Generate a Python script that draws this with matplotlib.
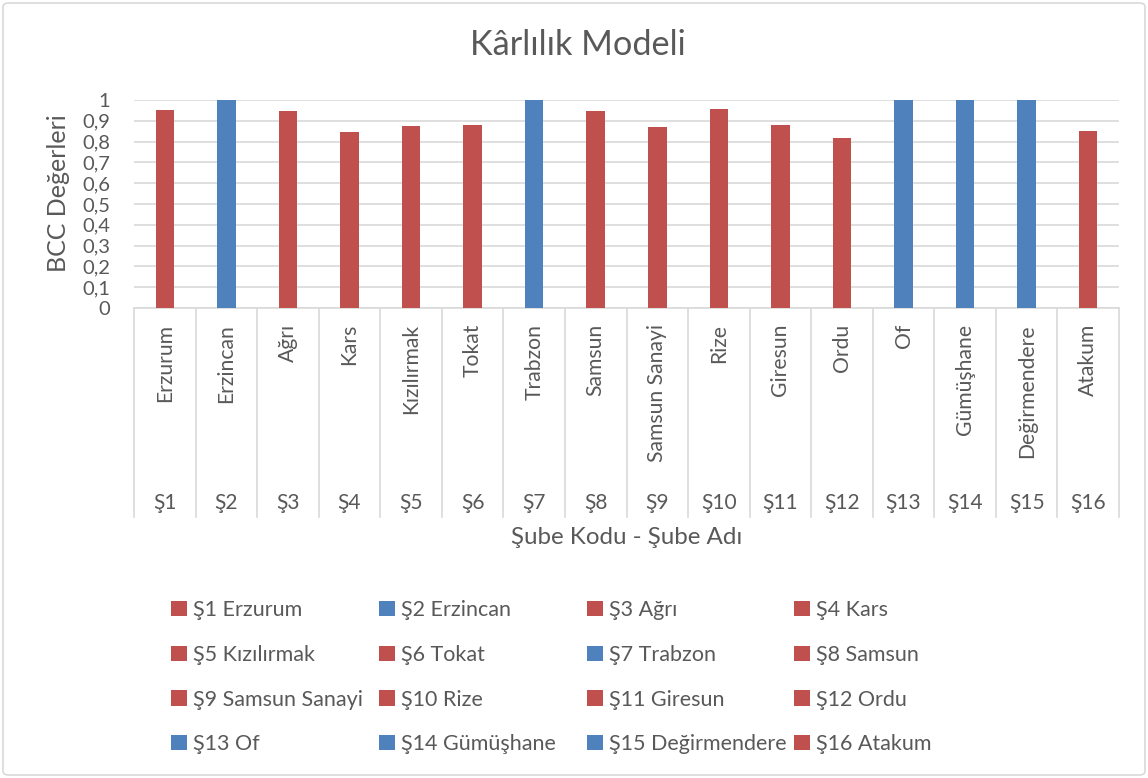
import matplotlib
matplotlib.use("Agg")
import matplotlib.pyplot as plt
from matplotlib.patches import FancyBboxPatch, Patch
import matplotlib.transforms as mtransforms

plt.rcParams['font.family'] = ['Lato', 'DejaVu Sans']

codes = ["Ş1", "Ş2", "Ş3", "Ş4", "Ş5", "Ş6", "Ş7", "Ş8", "Ş9", "Ş10",
         "Ş11", "Ş12", "Ş13", "Ş14", "Ş15", "Ş16"]
names = ["Erzurum", "Erzincan", "Ağrı", "Kars", "Kızılırmak", "Tokat", "Trabzon",
         "Samsun", "Samsun Sanayi", "Rize", "Giresun", "Ordu", "Of", "Gümüşhane",
         "Değirmendere", "Atakum"]
values = [0.950, 1.0, 0.947, 0.844, 0.875, 0.878, 1.0, 0.945, 0.872, 0.955,
          0.878, 0.817, 1.0, 1.0, 1.0, 0.849]
yticks = [0, 0.1, 0.2, 0.3, 0.4, 0.5, 0.6, 0.7, 0.8, 0.9, 1]
ytick_labels = ["0", "0,1", "0,2", "0,3", "0,4", "0,5", "0,6", "0,7", "0,8", "0,9", "1"]

RED = "#C0504D"
BLUE = "#4F81BD"
TXT = "#595959"
GRID = "#D9D9D9"
colors = [BLUE if v >= 1.0 else RED for v in values]

W, H = 1148, 778
fig = plt.figure(figsize=(W / 100, H / 100), dpi=100)

# figure border
fig.patches.append(FancyBboxPatch((3 / W, 3 / H), 1 - 6 / W, 1 - 6 / H,
                                  boxstyle="round,pad=0,rounding_size=0.005",
                                  transform=fig.transFigure, fill=False,
                                  edgecolor=GRID, linewidth=1.2))

left, right, top, bottom = 134, 1119, 100, 308
ax = fig.add_axes([left / W, 1 - bottom / H, (right - left) / W, (bottom - top) / H])

x = list(range(len(values)))
bars = ax.bar(x, values, width=0.3, color=colors, zorder=3)

ax.set_xlim(-0.5, len(values) - 0.5)
ax.set_ylim(0, 1)
ax.set_yticks(yticks)
ax.set_yticklabels(ytick_labels, fontsize=14.5, color=TXT)
ax.tick_params(axis='y', length=0, pad=17)
ax.tick_params(axis='x', length=0, labelbottom=False)
ax.grid(axis='y', color=GRID, linewidth=1.2, zorder=0)
for s in ["top", "right", "left"]:
    ax.spines[s].set_visible(False)
ax.spines["bottom"].set_color(GRID)
ax.spines["bottom"].set_linewidth(1.2)

# multi-level category axis
trans = mtransforms.blended_transform_factory(ax.transData, ax.transAxes)
axh = bottom - top
depth = (517 - bottom) / axh
for i in range(len(values) + 1):
    ax.plot([i - 0.5, i - 0.5], [0, -depth], transform=trans, color=GRID,
            linewidth=1.2, clip_on=False)
for i, (c, n) in enumerate(zip(codes, names)):
    ax.text(i, -(324 - bottom) / axh, n, transform=trans, rotation=90,
            ha='center', va='top', fontsize=15.2, color=TXT)
    ax.text(i, -(503 - bottom) / axh, c, transform=trans,
            ha='center', va='center', fontsize=15, color=TXT)

fig.text(627 / W, 1 - 537 / H, "Şube Kodu - Şube Adı", ha='center', va='center',
         fontsize=17.4, color=TXT)
fig.text(58 / W, 1 - 193 / H, "BCC Değerleri", ha='center', va='center',
         rotation=90, fontsize=18, color=TXT)
fig.text(578 / W, 1 - 45 / H, "Kârlılık Modeli", ha='center', va='center',
         fontsize=24.7, color=TXT)

# legend: 4 columns, row-major order
col_x = [171, 379, 587, 794]
for c in range(4):
    handles = []
    labels = []
    for r in range(4):
        k = r * 4 + c
        handles.append(Patch(facecolor=colors[k], edgecolor='none'))
        labels.append(f"{codes[k]} {names[k]}")
    fig.legend(handles, labels, loc='upper left',
               bbox_to_anchor=(col_x[c] / W, 1 - 600 / H),
               frameon=False, fontsize=15.5, labelcolor=TXT,
               handlelength=0.72, handleheight=0.72, handletextpad=0.3,
               labelspacing=1.15, borderpad=0, borderaxespad=0)

fig.savefig("out.png", dpi=100, facecolor="white")
